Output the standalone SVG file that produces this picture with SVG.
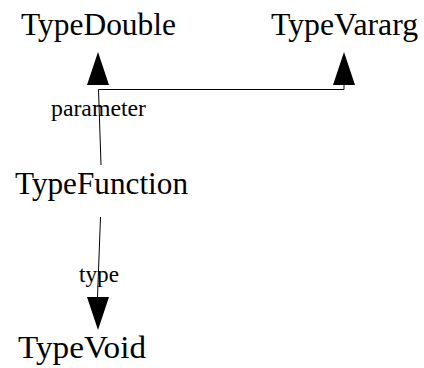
<svg xmlns="http://www.w3.org/2000/svg" width="424" height="368" viewBox="0 0 424 368">
<style>
.n{font-family:"Liberation Serif","Times New Roman",serif;font-size:31.5px;fill:#000}
.l{font-family:"Liberation Serif","Times New Roman",serif;font-size:23.5px;fill:#000}
.e{stroke:#000;stroke-width:1;fill:none}
.h{fill:#000;stroke:none}
</style>
<rect width="424" height="368" fill="#fff"/>
<g id="connectors">
<polyline class="e" points="101,165 98.5,89.5 344,89.5 344,84"/>
<polygon class="h" points="98,52 109,85 87,85"/>
<polygon class="h" points="344,52 355,85 333,85"/>
<text class="l" x="51" y="116" textLength="95" lengthAdjust="spacingAndGlyphs">parameter</text>
<line class="e" x1="100.5" y1="217" x2="97.5" y2="297"/>
<polygon class="h" points="87,297 109,297 98,330"/>
<text class="l" x="79" y="282" textLength="40" lengthAdjust="spacingAndGlyphs">type</text>
</g>
<g id="TypeDouble"><text class="n" x="21" y="35" textLength="155" lengthAdjust="spacingAndGlyphs">TypeDouble</text></g>
<g id="TypeVararg"><text class="n" x="271" y="35" textLength="147" lengthAdjust="spacingAndGlyphs">TypeVararg</text></g>
<g id="TypeFunction"><text class="n" x="15" y="194" textLength="173" lengthAdjust="spacingAndGlyphs">TypeFunction</text></g>
<g id="TypeVoid"><text class="n" x="18" y="358" textLength="128" lengthAdjust="spacingAndGlyphs">TypeVoid</text></g>
</svg>
